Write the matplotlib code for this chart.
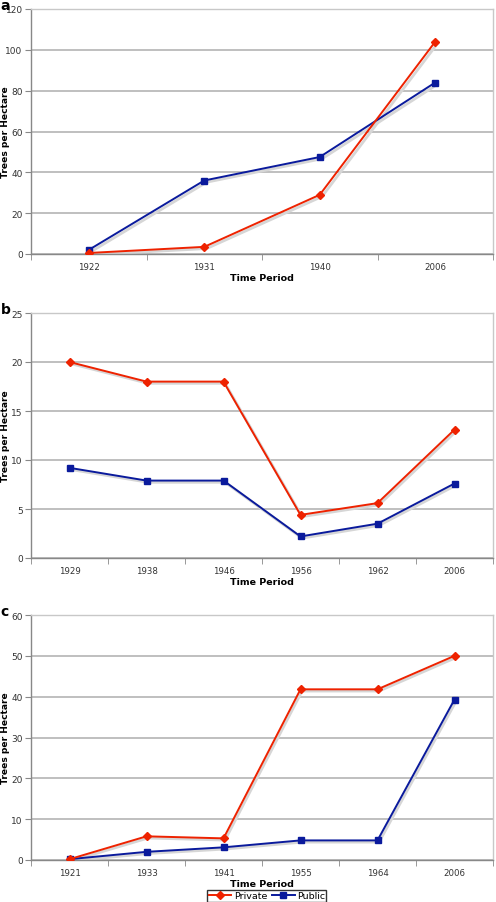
import numpy as np
import matplotlib
matplotlib.use("Agg")
import matplotlib.pyplot as plt
from matplotlib.ticker import FixedLocator

# panel a
years_a = ["1922", "1931", "1940", "2006"]
private_a = [0.5, 3.5, 29, 104]
public_a = [2, 36, 47.5, 84]

# panel b
years_b = ["1929", "1938", "1946", "1956", "1962", "2006"]
private_b = [20, 18, 18, 4.4, 5.6, 13.1]
public_b = [9.2, 7.9, 7.9, 2.2, 3.5, 7.6]

# panel c
years_c = ["1921", "1933", "1941", "1955", "1964", "2006"]
private_c = [0.2, 5.8, 5.3, 41.8, 41.8, 50]
public_c = [0.2, 2.0, 3.1, 4.8, 4.8, 39.3]

panels = [
    ("a", years_a, private_a, public_a, 120, 20),
    ("b", years_b, private_b, public_b, 25, 5),
    ("c", years_c, private_c, public_c, 60, 10),
]

RED = "#ee2200"
BLUE = "#0a1a9c"
GRID = "#b4b4b4"

W, H = 496, 903
fig = plt.figure(figsize=(W / 100, H / 100), dpi=100)

# axes boxes in pixels: (left, top, right, bottom)
boxes = [(31, 10, 493, 255), (31, 314, 493, 559), (31, 616, 493, 861)]

for (lab, years, priv, pub, ymax, ystep), (l, t, r, b) in zip(panels, boxes):
    ax = fig.add_axes([l / W, 1 - b / H, (r - l) / W, (b - t) / H])
    x = np.arange(len(years))
    # faint shadow beneath lines
    for ys in (priv, pub):
        ax.plot(x + 0.02, np.array(ys) - ymax * 0.007, color="#d6d6d6", lw=2.0, zorder=2)
    lp, = ax.plot(x, priv, color=RED, lw=1.4, marker="D", ms=3.8, zorder=4, label="Private")
    lb, = ax.plot(x, pub, color=BLUE, lw=1.4, marker="s", ms=4.8, zorder=3, label="Public")
    ax.set_xlim(-0.5, len(years) - 0.5)
    ax.set_ylim(0, ymax)
    ax.set_yticks(np.arange(0, ymax + ystep / 2, ystep))
    ax.set_xticks(x)
    ax.set_xticklabels(years)
    ax.xaxis.set_minor_locator(FixedLocator(np.arange(-0.5, len(years), 1)))
    ax.tick_params(axis="x", which="major", length=0, labelsize=6.2, pad=6, colors="#333333")
    ax.tick_params(axis="x", which="minor", length=4, color="#888888")
    ax.tick_params(axis="y", length=4, color="#888888", labelsize=6.5, colors="#333333", pad=2)
    ax.grid(axis="y", color=GRID, lw=1.2)
    ax.set_axisbelow(True)
    for side in ("top", "right"):
        ax.spines[side].set_color("#c8c8c8")
    for side in ("left", "bottom"):
        ax.spines[side].set_color("#888888")
    for s in ax.spines.values():
        s.set_linewidth(1.0)
    ax.set_ylabel("Trees per Hectare", fontsize=6.6, fontweight="bold")
    ax.yaxis.set_label_coords((10 - l) / (r - l), 0.5)
    ax.set_xlabel("Time Period", fontsize=6.8, fontweight="bold", labelpad=1)
    fig.text(0.5 / W, 1 - (t + 0.5) / H, lab, fontsize=10, fontweight="bold",
             va="baseline", ha="left")

fig.legend(handles=[lp, lb], loc="lower center", bbox_to_anchor=(0.538, 0.0), ncol=2,
           fontsize=6.8, frameon=True, fancybox=False, edgecolor="black",
           borderpad=0.15, handlelength=2.4, handletextpad=0.25, columnspacing=0.5,
           borderaxespad=0.05)

fig.savefig("out.png", dpi=100)
